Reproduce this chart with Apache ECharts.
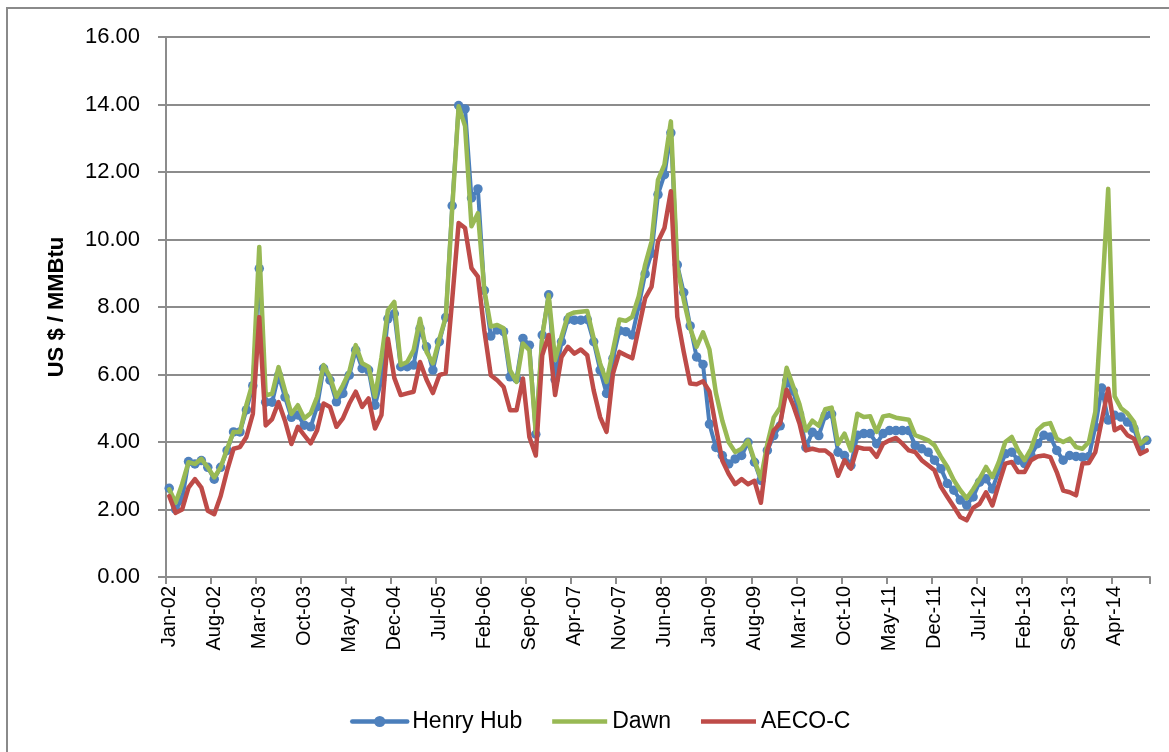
<!DOCTYPE html>
<html>
<head>
<meta charset="utf-8">
<title>Henry Hub / Dawn / AECO-C</title>
<script src="https://cdn.jsdelivr.net/npm/echarts@6/dist/echarts.min.js"></script>
<style>
    html, body { margin: 0; padding: 0; background: #fff; }
    #main { width: 1169px; height: 752px; }
</style>
</head>
<body>
<div id="main"></div>
<script>
    // month labels Jan-02 .. Sep-14
    const monthNames = ['Jan', 'Feb', 'Mar', 'Apr', 'May', 'Jun', 'Jul', 'Aug', 'Sep', 'Oct', 'Nov', 'Dec'];
    const months = [];
    for (let i = 0; i < 153; i++) {
        const yy = 2 + Math.floor(i / 12);
        months.push(monthNames[i % 12] + '-' + (yy < 10 ? '0' + yy : '' + yy));
    }

    const yTicks = [0, 2, 4, 6, 8, 10, 12, 14, 16];

    const henryHub = [
        2.63, 2.0, 2.3, 3.42, 3.35, 3.45, 3.25, 2.9, 3.25, 3.75, 4.3, 4.3, 4.95, 5.67, 9.14, 5.18, 5.18, 5.97, 5.33, 4.73,
        4.8, 4.5, 4.45, 5.05, 6.18, 5.83, 5.19, 5.44, 5.98, 6.72, 6.18, 6.13, 5.09, 5.83, 7.65, 7.8, 6.23, 6.23, 6.28, 7.36, 6.82, 6.13,
        6.97, 7.69, 11.0, 13.97, 13.87, 11.23, 11.5, 8.49, 7.14, 7.32, 7.27, 5.93, 5.88, 7.07, 6.87, 4.23, 7.17, 8.36, 5.85, 6.97, 7.63,
        7.61, 7.61, 7.63, 6.97, 6.13, 5.44, 6.48, 7.3, 7.27, 7.17, 8.03, 8.98, 9.59, 11.33, 11.92, 13.16, 9.25, 8.43, 7.44, 6.52, 6.3,
        4.53, 3.84, 3.6, 3.35, 3.5, 3.6, 3.99, 3.4, 2.86, 3.75, 4.19, 4.48, 5.81, 5.51, 4.83, 3.84, 4.29, 4.19, 4.78, 4.83, 3.7,
        3.6, 3.31, 4.2, 4.25, 4.25, 3.95, 4.25, 4.34, 4.34, 4.34, 4.34, 3.9, 3.8, 3.7, 3.46, 3.21, 2.77, 2.57, 2.28, 2.13, 2.37,
        2.81, 2.91, 2.61, 3.16, 3.65, 3.7, 3.46, 3.36, 3.6, 3.95, 4.2, 4.15, 3.75, 3.46, 3.6, 3.57, 3.55, 3.57, 4.45, 5.6, 4.65,
        4.79, 4.74, 4.59, 4.4, 3.85, 4.05
    ];

    const dawn = [
        2.6, 2.2, 2.75, 3.4, 3.35, 3.5, 3.25, 2.95, 3.25, 3.8, 4.3, 4.3, 5.1, 5.77, 9.78, 5.38, 5.43, 6.22, 5.52, 4.83,
        5.09, 4.7, 4.85, 5.34, 6.28, 5.93, 5.34, 5.68, 6.08, 6.87, 6.33, 6.23, 5.34, 6.5, 7.9, 8.15, 6.28, 6.37, 6.72, 7.65, 6.67, 6.33,
        7.05, 7.7, 10.9, 13.95, 13.36, 10.39, 10.78, 8.5, 7.42, 7.47, 7.37, 6.13, 5.78, 6.92, 6.72, 4.25, 7.12, 8.36, 6.43, 7.12, 7.76,
        7.84, 7.86, 7.88, 7.07, 6.33, 5.78, 6.72, 7.63, 7.59, 7.71, 8.31, 9.25, 9.94, 11.77, 12.22, 13.5, 9.2, 8.21, 7.37, 6.82, 7.25,
        6.74, 5.46, 4.63, 3.99, 3.7, 3.8, 4.04, 3.45, 2.91, 3.94, 4.73, 5.02, 6.2, 5.66, 5.12, 4.34, 4.63, 4.48, 4.97, 5.02, 3.94,
        4.25, 3.75, 4.84, 4.74, 4.76, 4.3, 4.76, 4.79, 4.72, 4.69, 4.66, 4.2, 4.13, 4.05, 3.9, 3.56, 3.26, 2.87, 2.57, 2.33, 2.6,
        2.91, 3.26, 2.96, 3.41, 4.0, 4.15, 3.75, 3.46, 3.8, 4.35, 4.52, 4.56, 4.1, 4.0, 4.1, 3.85, 3.8, 4.0, 4.9, 8.2, 11.5,
        5.35, 5.0, 4.85, 4.6, 3.95, 4.1
    ];

    const aeco = [
        2.4, 1.9, 2.0, 2.65, 2.9, 2.65, 1.96, 1.86, 2.4, 3.15, 3.8, 3.85, 4.15, 4.83, 7.7, 4.49, 4.68, 5.18, 4.63, 3.94,
        4.45, 4.2, 3.96, 4.35, 5.14, 5.04, 4.45, 4.7, 5.14, 5.49, 5.04, 5.29, 4.4, 4.8, 7.06, 5.9, 5.39, 5.44, 5.49, 6.37, 5.85, 5.45,
        5.98, 6.05, 8.21, 10.49, 10.34, 9.15, 8.9, 7.3, 5.98, 5.83, 5.63, 4.94, 4.94, 5.88, 4.15, 3.6, 6.57, 7.17, 5.39, 6.52, 6.82,
        6.62, 6.74, 6.57, 5.53, 4.74, 4.3, 6.03, 6.67, 6.57, 6.48, 7.37, 8.26, 8.6, 9.94, 10.34, 11.43, 7.71, 6.67, 5.73, 5.71, 5.8,
        5.5, 4.45, 3.45, 3.05, 2.75, 2.9, 2.75, 2.85, 2.2, 3.75, 4.35, 4.55, 5.55, 5.1, 4.55, 3.75, 3.8, 3.75, 3.75, 3.6, 3.0,
        3.46, 3.21, 3.85, 3.8, 3.8, 3.56, 3.95, 4.05, 4.12, 3.95, 3.75, 3.7, 3.46, 3.31, 3.16, 2.67, 2.37, 2.08, 1.78, 1.68, 2.05,
        2.17, 2.51, 2.12, 2.76, 3.36, 3.41, 3.11, 3.11, 3.46, 3.57, 3.6, 3.55, 3.11, 2.56, 2.51, 2.42, 3.36, 3.38, 3.7, 4.64, 5.58,
        4.35, 4.45, 4.2, 4.1, 3.65, 3.75
    ];

    const font = 'Liberation Sans, Arial, sans-serif';
    const gridColor = '#8c8c8c';
    // plain line icon for the series without markers
    const lineIcon = 'path://M0,0L55,0L55,4.5L0,4.5Z';

    const option = {
        animation: false,
        backgroundColor: '#fff',
        // outer chart border (only top and left visible in the crop)
        graphic: [{
            type: 'rect',
            shape: { x: 7, y: 8, width: 1300, height: 900 },
            style: { fill: 'none', stroke: '#8a8a8a', lineWidth: 2 },
            silent: true
        }],
        grid: { left: 166, right: 19, top: 37, bottom: 175, containLabel: false },
        legend: {
            left: 345,
            top: 705,
            itemWidth: 55,
            itemHeight: 14,
            itemGap: 30,
            textStyle: { fontFamily: font, fontSize: 23, color: '#000' },
            data: [
                { name: 'Henry Hub', lineStyle: { width: 4.5 } },
                { name: 'Dawn', icon: lineIcon },
                { name: 'AECO-C', icon: lineIcon }
            ]
        },
        xAxis: {
            type: 'category',
            data: months,
            boundaryGap: true,
            axisLine: { lineStyle: { color: gridColor, width: 2 } },
            axisTick: { show: true, interval: 6, length: 7, lineStyle: { color: gridColor, width: 2 } },
            axisLabel: {
                interval: 6,
                rotate: 90,
                margin: 9,
                fontFamily: font,
                fontSize: 20,
                color: '#000'
            },
            splitLine: { show: false }
        },
        yAxis: {
            type: 'value',
            min: yTicks[0],
            max: yTicks[yTicks.length - 1],
            interval: 2,
            name: 'US $ / MMBtu',
            nameLocation: 'middle',
            nameRotate: 90,
            nameGap: 98,
            nameTextStyle: { fontFamily: font, fontSize: 22, fontWeight: 'bold', color: '#000' },
            axisLine: { show: true, lineStyle: { color: gridColor, width: 2 } },
            axisTick: { show: true, length: 8, lineStyle: { color: gridColor, width: 2 } },
            axisLabel: {
                margin: 26,
                fontFamily: font,
                fontSize: 22,
                color: '#000',
                formatter: function (v) { return v.toFixed(2); }
            },
            splitLine: { lineStyle: { color: gridColor, width: 2 } }
        },
        series: [{
            name: 'Henry Hub',
            type: 'line',
            z: 1,
            data: henryHub,
            symbol: 'circle',
            symbolSize: 9.5,
            showSymbol: true,
            showAllSymbol: true,
            itemStyle: { color: '#4F81BD' },
            lineStyle: { color: '#4A7EBB', width: 4, join: 'round', cap: 'round' }
        }, {
            name: 'Dawn',
            type: 'line',
            z: 2,
            data: dawn,
            symbol: 'none',
            itemStyle: { color: '#98B954' },
            lineStyle: { color: '#98B954', width: 4.5, join: 'round', cap: 'round' }
        }, {
            name: 'AECO-C',
            type: 'line',
            z: 3,
            data: aeco,
            symbol: 'none',
            itemStyle: { color: '#BE4B48' },
            lineStyle: { color: '#BE4B48', width: 4.5, join: 'round', cap: 'round' }
        }]
    };

    const myChart = echarts.init(document.getElementById('main'));
    myChart.setOption(option);
</script>
</body>
</html>
